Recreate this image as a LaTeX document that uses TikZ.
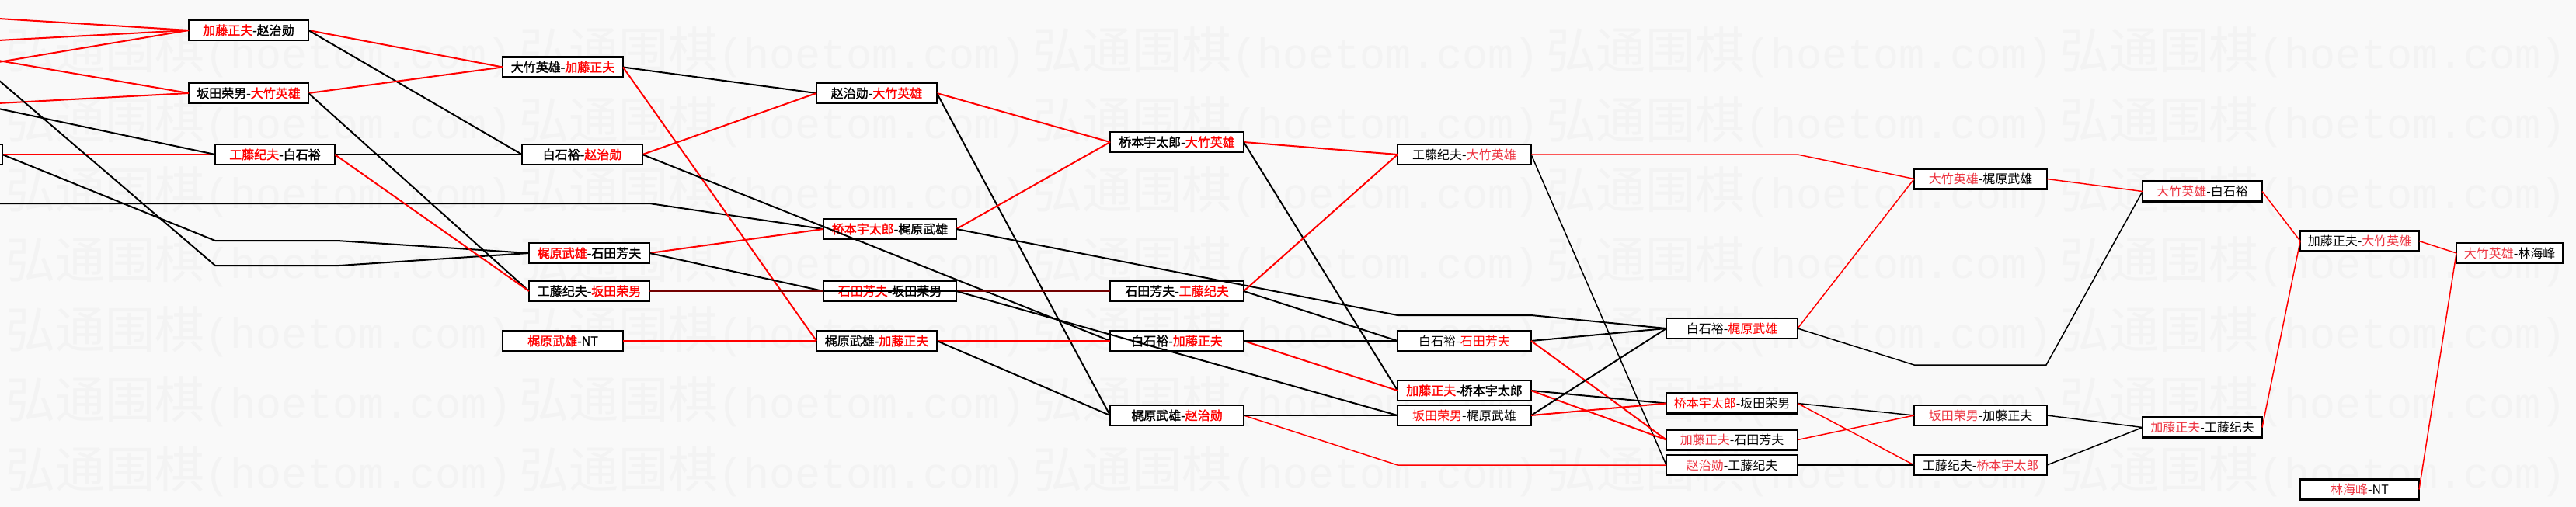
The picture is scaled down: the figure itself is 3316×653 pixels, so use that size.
\documentclass[tikz,border=0pt]{standalone}
\usepackage{fontspec}
\newfontfamily\cjk{Noto Sans CJK SC}
\newfontfamily\cjkb[FakeBold=1.6]{Noto Sans CJK SC}
\newfontfamily\wmmono{Liberation Mono}
\definecolor{bgc}{rgb}{0.975,0.975,0.975}
\definecolor{wmc}{rgb}{0.952,0.952,0.952}
\definecolor{redtxt}{rgb}{1,0,0}
\definecolor{redlt}{rgb}{0.93,0.2,0.25}
\newcommand{\wa}[1]{\textcolor{redtxt}{#1}}
\newcommand{\wb}[1]{\textcolor{redlt}{#1}}
\tikzset{
 box/.style={draw=black, fill=white, line width=2.9pt, inner sep=0pt, outer sep=0pt,
   minimum height=26pt, font=\cjkb\fontsize{16}{17}\selectfont, text=black},
 boxr/.style={box, font=\cjk\fontsize{16}{17}\selectfont},
 boxt/.style={boxr, line width=2.1pt},
 win/.style={draw=red, line width=2.0pt},
 lose/.style={draw=black, line width=2.0pt},
 winl/.style={draw=red, line width=1.5pt},
 losel/.style={draw=black, line width=1.5pt},
 mix/.style={draw=red, line width=2.0pt, draw opacity=0.45},
 wm/.style={anchor=west, text=wmc, inner sep=0pt}
}
\begin{document}
\begin{tikzpicture}[x=1pt,y=-1pt]
\useasboundingbox (0,0) rectangle (3316,653);
\fill[bgc] (0,0) rectangle (3316,653);
\clip (0,0) rectangle (3316,653);
% watermark
\foreach \r in {0,...,6}{
 \foreach \k in {0,...,4}{
  \node[wm] (wm-\r-\k) at ({7+661*\k},{67+90*\r})
   {{\cjk\fontsize{64}{64}\selectfont 弘通围棋}{\wmmono\fontsize{55}{55}\selectfont (hoetom.com)}};
 }
}
% nodes
\node[box, minimum width=104pt] (LB) at (-49,199) {};
\node[box, minimum width=154pt] (A1) at (320,39) {\wa{加藤正夫}-赵治勋};
\node[box, minimum width=154pt] (A2) at (320,120) {坂田荣男-\wa{大竹英雄}};
\node[box, minimum width=154pt] (B1) at (354,199) {\wa{工藤纪夫}-白石裕};
\node[box, minimum width=155pt] (C1) at (724.5,86.5) {大竹英雄-\wa{加藤正夫}};
\node[box, minimum width=155pt] (C2) at (749.5,199) {白石裕-\wa{赵治勋}};
\node[box, minimum width=155pt] (C3) at (758.5,326) {\wa{梶原武雄}-石田芳夫};
\node[box, minimum width=155pt] (C4) at (758.5,375) {工藤纪夫-\wa{坂田荣男}};
\node[box, minimum width=155pt] (C5) at (724.5,439) {\wa{梶原武雄}-NT};
\node[box, minimum width=155pt] (D1) at (1128.5,120) {赵治勋-\wa{大竹英雄}};
\node[box, minimum width=171pt] (D2) at (1145.5,295) {\wa{桥本宇太郎}-梶原武雄};
\node[box, minimum width=171pt] (D3) at (1145.5,375) {\wa{石田芳夫}-坂田荣男};
\node[box, minimum width=155pt] (D4) at (1128.5,439) {梶原武雄-\wa{加藤正夫}};
\node[box, minimum width=172pt] (E1) at (1515,183) {桥本宇太郎-\wa{大竹英雄}};
\node[box, minimum width=172pt] (E2) at (1515,375) {石田芳夫-\wa{工藤纪夫}};
\node[box, minimum width=172pt] (E3) at (1515,439) {白石裕-\wa{加藤正夫}};
\node[box, minimum width=172pt] (E4) at (1515,535) {梶原武雄-\wa{赵治勋}};
\node[boxr, minimum width=172pt] (F1) at (1885,199) {工藤纪夫-\wb{大竹英雄}};
\node[boxr, minimum width=172pt] (F2) at (1885,439) {白石裕-\wa{石田芳夫}};
\node[box, minimum width=172pt] (F3) at (1885,503) {\wa{加藤正夫}-桥本宇太郎};
\node[boxr, minimum width=172pt] (F4) at (1885,535) {\wa{坂田荣男}-梶原武雄};
\node[boxr, minimum width=169pt] (G1) at (2229.5,423) {白石裕-\wa{梶原武雄}};
\node[boxr, minimum width=169pt] (G2) at (2229.5,519.5) {\wa{桥本宇太郎}-坂田荣男};
\node[boxt, minimum width=169pt] (G3) at (2229.5,566.5) {\wb{加藤正夫}-石田芳夫};
\node[boxt, minimum width=169pt] (G4) at (2229.5,599) {\wb{赵治勋}-工藤纪夫};
\node[boxt, minimum width=171pt] (H1) at (2549.5,230.5) {\wb{大竹英雄}-梶原武雄};
\node[boxt, minimum width=171pt] (H2) at (2549.5,535) {\wb{坂田荣男}-加藤正夫};
\node[boxt, minimum width=171pt] (H3) at (2549.5,599) {工藤纪夫-\wb{桥本宇太郎}};
\node[boxt, minimum width=154pt] (I1) at (2835,246.5) {\wb{大竹英雄}-白石裕};
\node[boxt, minimum width=154pt] (I2) at (2835,550.5) {\wb{加藤正夫}-工藤纪夫};
\node[boxt, minimum width=153pt] (J1) at (3037.5,310.5) {加藤正夫-\wb{大竹英雄}};
\node[boxr, minimum width=153pt] (J2) at (3037.5,630.5) {\wb{林海峰}-NT};
\node[boxr, minimum width=137pt] (K1) at (3230.5,326) {\wb{大竹英雄}-林海峰};
% free ends and bends
\coordinate (l1) at (-2,24);
\coordinate (l2) at (-2,52);
\coordinate (l3) at (-2,80);
\coordinate (l4) at (-2,78);
\coordinate (l5) at (-2,133);
\coordinate (l6) at (-2,103);
\coordinate (l7) at (-2,140);
\coordinate (l8) at (-2,262);
\coordinate (p1) at (277,310);
\coordinate (p2) at (434,310);
\coordinate (p3) at (277,342);
\coordinate (p4) at (437,342);
\coordinate (p5) at (836,262);
\coordinate (p6) at (1799,406);
\coordinate (p7) at (1971,406);
\coordinate (p8) at (1799,599);
\coordinate (p9) at (2314,199);
\coordinate (p10) at (2464,470);
\coordinate (p11) at (2634,470);
% connectors from the left
\draw[win] (l1) -- (A1.west);
\draw[win] (l2) -- (A1.west);
\draw[win] (l3) -- (A1.west);
\draw[win] (l4) -- (A2.west);
\draw[win] (l5) -- (A2.west);
\draw[win] (LB.east) -- (B1.west);
\draw[lose] (l7) -- (B1.west);
\draw[lose] (l6) -- (p3) -- (p4) -- (C3.west);
\draw[lose] (LB.east) -- (p1) -- (p2) -- (C3.west);
\draw[lose] (l8) -- (p5) -- (D2.west);
% A/B
\draw[win] (A1.east) -- (C1.west);
\draw[lose] (A1.east) -- (C2.west);
\draw[win] (A2.east) -- (C1.west);
\draw[lose] (A2.east) -- (C4.west);
\draw[lose] (B1.east) -- (C2.west);
\draw[win] (B1.east) -- (C4.west);
% C
\draw[lose] (C1.east) -- (D1.west);
\draw[win] (C1.east) -- (D4.west);
\draw[win] (C2.east) -- (D1.west);
\draw[lose] (C2.east) -- (E3.west);
\draw[win] (C3.east) -- (D2.west);
\draw[lose] (C3.east) -- (D3.west);
\draw[lose] (C4.east) -- (E2.west);
\draw[mix] (C4.east) -- (D3.west);
\draw[win] (C5.east) -- (D4.west);
% D
\draw[win] (D1.east) -- (E1.west);
\draw[lose] (D1.east) -- (E4.west);
\draw[win] (D2.east) -- (E1.west);
\draw[lose] (D2.east) -- (p6) -- (p7) -- (G1.west);
\draw[mix] (D3.east) -- (E2.west);
\draw[lose] (D3.east) -- (F4.west);
\draw[win] (D4.east) -- (E3.west);
\draw[lose] (D4.east) -- (E4.west);
% E
\draw[win] (E1.east) -- (F1.west);
\draw[lose] (E1.east) -- (F3.west);
\draw[win] (E2.east) -- (F1.west);
\draw[lose] (E2.east) -- (F2.west);
\draw[win] (E3.east) -- (F3.west);
\draw[lose] (E3.east) -- (F2.west);
\draw[winl] (E4.east) -- (p8) -- (G4.west);
\draw[lose] (E4.east) -- (F4.west);
% F
\draw[winl] (F1.east) -- (p9) -- (H1.west);
\draw[losel] (F1.east) -- (G4.west);
\draw[lose] (F2.east) -- (G1.west);
\draw[win] (F2.east) -- (G3.west);
\draw[lose] (F3.east) -- (G2.west);
\draw[win] (F3.east) -- (G3.west);
\draw[lose] (F4.east) -- (G1.west);
\draw[win] (F4.east) -- (G2.west);
% G
\draw[winl] (G1.east) -- (H1.west);
\draw[losel] (G1.east) -- (p10) -- (p11) -- (I1.west);
\draw[losel] (G2.east) -- (H2.west);
\draw[winl] (G2.east) -- (H3.west);
\draw[winl] (G3.east) -- (H2.west);
\draw[losel] (G4.east) -- (H3.west);
% H
\draw[winl] (H1.east) -- (I1.west);
\draw[losel] (H2.east) -- (I2.west);
\draw[losel] (H3.east) -- (I2.west);
% I, J
\draw[winl] (I1.east) -- (J1.west);
\draw[winl] (I2.east) -- (J1.west);
\draw[winl] (J1.east) -- (K1.west);
\draw[winl] (J2.east) -- (K1.west);
\end{tikzpicture}
\end{document}
